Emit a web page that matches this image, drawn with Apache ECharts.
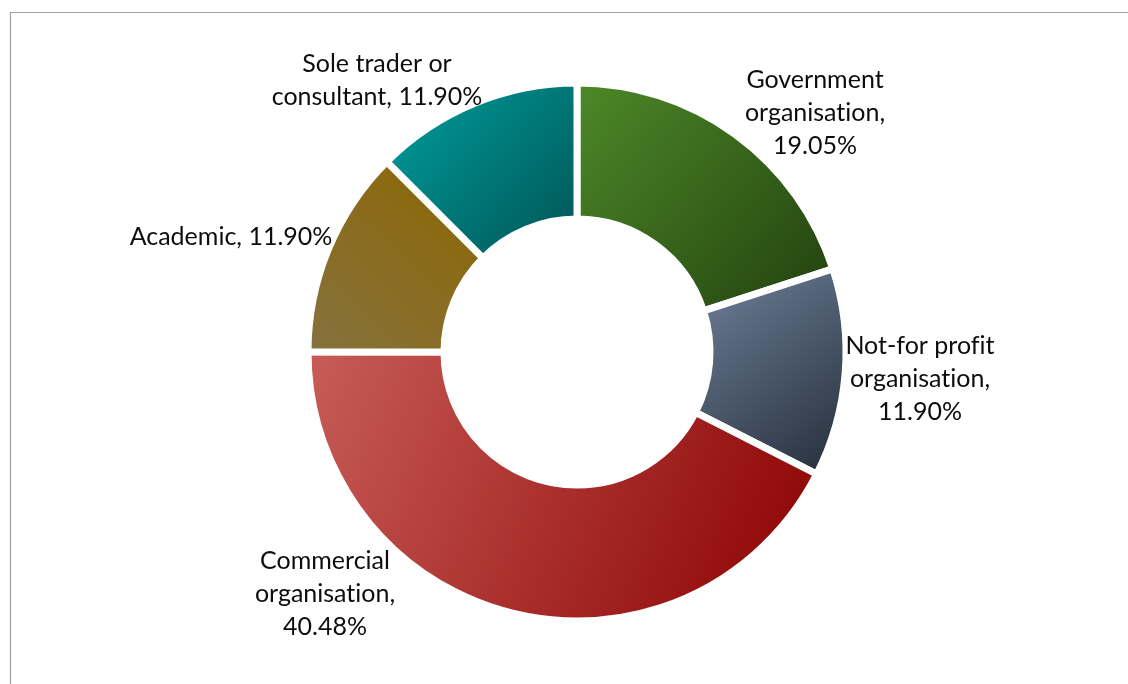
<!DOCTYPE html>
<html>
<head>
<meta charset="utf-8">
<title>Organisation type</title>
<script src="https://cdn.jsdelivr.net/npm/echarts@6/dist/echarts.min.js"></script>
<style>
  html, body { margin: 0; padding: 0; background: #ffffff; }
  #chart { width: 1128px; height: 684px; }
</style>
</head>
<body>
<div id="chart"></div>
<script>
// Respondents by organisation type (share of responses, %)
const categories = [
  'Government\norganisation',
  'Not-for profit\norganisation',
  'Commercial\norganisation',
  'Academic',
  'Sole trader or\nconsultant'
];
const shares = [19.05, 11.90, 40.48, 11.90, 11.90];
const labelSeparators = [',\n', ',\n', ',\n', ', ', ', '];

// slice fills: light corner -> dark corner
const sliceGradients = [
  ['#4d8a28', '#223f0e'],
  ['#71839c', '#232c38'],
  ['#c65a55', '#8a0000'],
  ['#8e6600', '#85723f'],
  ['#00a0a0', '#005252']
];
const gradientDirs = [
  [0, 0, 1, 1],
  [0, 0, 1, 1],
  [0, 0.2, 1, 1],
  [1, 0, 0, 1],
  [0, 0, 1, 1]
];
// label anchor points (text block centres)
const labelAnchors = [
  [815, 113],
  [920, 379],
  [325, 594],
  [231, 237],
  [377, 80]
];

// keep "ti" / "fi" as separate glyphs (no ligatures)
const noLigatures = s => s.replace(/([tf])(?=i)/g, '$1\u200C');

const chart = echarts.init(document.getElementById('chart'), null, { renderer: 'canvas' });

const data = categories.map((name, i) => ({
  name: name,
  value: shares[i],
  itemStyle: {
    color: {
      type: 'linear',
      x: gradientDirs[i][0], y: gradientDirs[i][1],
      x2: gradientDirs[i][2], y2: gradientDirs[i][3],
      colorStops: [
        { offset: 0, color: sliceGradients[i][0] },
        { offset: 1, color: sliceGradients[i][1] }
      ]
    }
  }
}));

chart.setOption({
  animation: false,
  backgroundColor: '#ffffff',
  graphic: [{
    type: 'rect',
    shape: { x: 10.5, y: 12.5, width: 1200, height: 800 },
    style: { fill: 'none', stroke: '#a0a0a0', lineWidth: 1.2 },
    silent: true
  }],
  series: [{
    type: 'pie',
    center: [577, 352],
    radius: [133, 269],
    startAngle: 90,
    clockwise: true,
    avoidLabelOverlap: false,
    itemStyle: { borderColor: '#ffffff', borderWidth: 7 },
    label: {
      show: true,
      position: 'outside',
      fontFamily: 'Lato, "Open Sans", sans-serif',
      fontSize: 25,
      lineHeight: 33,
      color: '#0d0d0d',
      align: 'center',
      formatter: p => noLigatures(p.name + labelSeparators[p.dataIndex] + p.value.toFixed(2) + '%')
    },
    labelLine: { show: false },
    labelLayout: p => ({
      x: labelAnchors[p.dataIndex][0],
      y: labelAnchors[p.dataIndex][1],
      align: 'center',
      verticalAlign: 'middle'
    }),
    emphasis: { disabled: true },
    data: data
  }]
});
</script>
</body>
</html>
